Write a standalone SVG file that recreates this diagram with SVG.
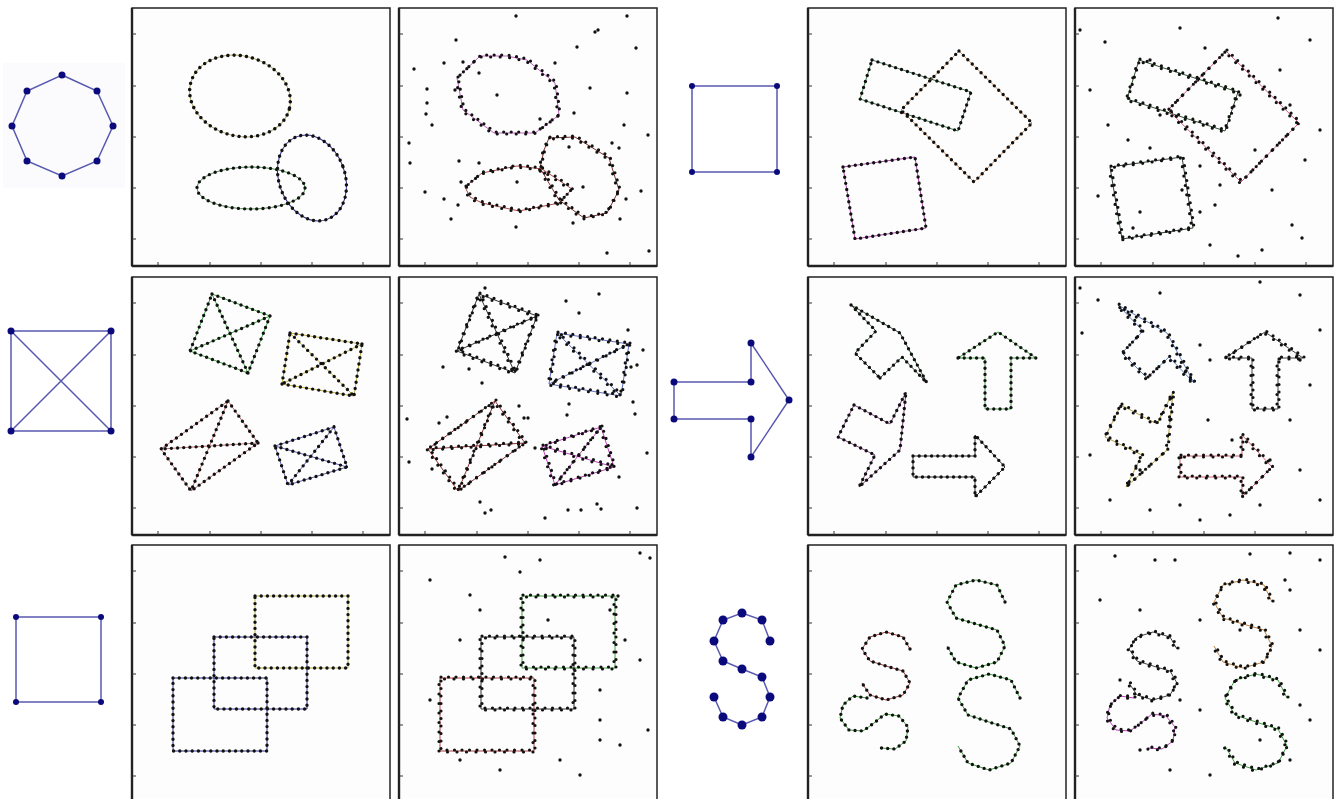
<svg xmlns="http://www.w3.org/2000/svg" xmlns:xlink="http://www.w3.org/1999/xlink" width="1338" height="799" viewBox="0 0 1338 799">
<style>
.frame{fill:#fdfdfd;stroke:#222;stroke-width:1.5}
.axis{stroke:#222;stroke-width:2.4}
.tick{stroke:#333;stroke-width:1}
.ln{fill:none;stroke-width:1}
.dots{fill:none;stroke:#111;stroke-width:3.4;stroke-linecap:round;stroke-dasharray:0 6.2}
.dj{fill:none;stroke:#111;stroke-width:3.2;stroke-linecap:round;stroke-dasharray:0 7.5}
.dj2{fill:none;stroke:#111;stroke-width:3.2;stroke-linecap:round;stroke-dasharray:0 9.5;stroke-dashoffset:4}
.noise circle{fill:#111}
.tpl{fill:none;stroke:#5858b0;stroke-width:1.5}
.tplpt circle{fill:#0a0a7c}
</style>
<defs>
<g id="frame">
<rect class="frame" x="0" y="0" width="258" height="258"/>
<line class="axis" x1="0" y1="0" x2="0" y2="258"/>
<line class="axis" x1="0" y1="258" x2="258" y2="258"/>
<path class="tick" d="M0 26h4M0 78h4M0 129h4M0 180h4M0 231h4M26 258v-4M78 258v-4M129 258v-4M180 258v-4M231 258v-4"/>
</g>
<ellipse id="e1" cx="108" cy="88" rx="51" ry="40" transform="rotate(15 108 88)"/>
<ellipse id="e2" cx="119" cy="180" rx="54" ry="21"/>
<ellipse id="e3" cx="180" cy="170" rx="33" ry="44" transform="rotate(-20 180 170)"/>
<path id="p1" d="M58 70L81 48L108 48L128 52L156 75L160 107L136 125L95 125L64 102Z"/>
<path id="p2" d="M66 179L83 165L118 158L143 161L173 181L160 195L120 203L83 195L71 189Z"/>
<path id="p3" d="M150 130L176 129L210 150L220 182L208 205L185 210L160 192L141 160L145 142Z"/>
<path id="q1" d="M64 52L163 84L150 123L52 91Z"/>
<path id="q2" d="M151 43L224 115L166 174L93 102Z"/>
<path id="q3" d="M35 159L107 149L118 220L47 231Z"/>
<path id="x1" d="M80 17L138 39L116 96L58 74ZM80 17L116 96M138 39L58 74"/>
<path id="x2" d="M158 56L230 67L222 119L150 107ZM158 56L222 119M230 67L150 107"/>
<path id="x3" d="M96 124L126 166L59 214L29 172ZM96 124L59 214M126 166L29 172"/>
<path id="x4" d="M143 169L202 150L215 190L156 208ZM143 169L215 190M202 150L156 208"/>
<path id="a1" d="M72 101L94 80L119 106L92 56L43 28L68 54L47 76Z"/>
<path id="a2" d="M150 81L177 81L177 132L203 132L203 81L228 81L190 55Z"/>
<path id="a3" d="M46 128L82 147L98 115L92 173L51 210L67 178L30 160Z"/>
<path id="a4" d="M105 179L167 179L167 158L197 190L167 220L167 200L105 200Z"/>
<path id="r1" d="M123 51H216V123H123Z"/>
<path id="r2" d="M82 92H175V164H82Z"/>
<path id="r3" d="M41 133H135V206H41Z"/>
<path id="s1" d="M197 57L189 40L168 35L148 40L139 57L148 73L168 79L189 85L197 101L189 117L168 123L148 117L139 101"/>
<path id="s2" d="M212 153L203 135L181 129L160 135L150 153L160 170L181 177L203 184L212 201L203 218L181 225L160 218L150 201"/>
<path id="s3" d="M102 104L95 92L78 87L62 92L54 104L62 116L78 121L95 126L102 138L95 150L78 155L62 150L54 138"/>
<path id="s4" d="M59 153L45 151L35 160L32 173L41 185L55 186L66 178L77 169L91 171L100 182L98 196L87 204L73 203"/>
</defs>

<g id="template-octagon">
<rect x="3" y="63" width="122" height="125" fill="#fbfbfd"/>
<polygon class="tpl" points="62,75 97,91 113,126 97,161 62,176 27,161 12,126 27,91"/>
<g class="tplpt"><circle cx="62" cy="75" r="3.5"/><circle cx="97" cy="91" r="3.5"/><circle cx="113" cy="126" r="3.5"/><circle cx="97" cy="161" r="3.5"/><circle cx="62" cy="176" r="3.5"/><circle cx="27" cy="161" r="3.5"/><circle cx="12" cy="126" r="3.5"/><circle cx="27" cy="91" r="3.5"/></g>
</g>
<g id="template-square-x">
<path class="tpl" d="M11 331H111V431H11ZM11 331L111 431M111 331L11 431"/>
<g class="tplpt"><circle cx="11" cy="331" r="3.5"/><circle cx="111" cy="331" r="3.5"/><circle cx="111" cy="431" r="3.5"/><circle cx="11" cy="431" r="3.5"/></g>
</g>
<g id="template-square-1">
<path class="tpl" d="M16 617H101V702H16Z"/>
<g class="tplpt"><circle cx="16" cy="617" r="3"/><circle cx="101" cy="617" r="3"/><circle cx="101" cy="702" r="3"/><circle cx="16" cy="702" r="3"/></g>
</g>
<g id="template-square-2">
<path class="tpl" d="M692 86H777V172H692Z"/>
<g class="tplpt"><circle cx="692" cy="86" r="3"/><circle cx="777" cy="86" r="3"/><circle cx="777" cy="172" r="3"/><circle cx="692" cy="172" r="3"/></g>
</g>
<g id="template-arrow">
<polygon class="tpl" points="674,382 751,382 751,343 789,400 751,457 751,419 674,419"/>
<g class="tplpt"><circle cx="674" cy="382" r="3.5"/><circle cx="751" cy="382" r="3.5"/><circle cx="751" cy="343" r="3.5"/><circle cx="789" cy="400" r="3.5"/><circle cx="751" cy="457" r="3.5"/><circle cx="751" cy="419" r="3.5"/><circle cx="674" cy="419" r="3.5"/></g>
</g>
<g id="template-s">
<polyline class="tpl" points="770,641 762,620 742,613 723,620 714,641 723,661 742,669 762,677 770,697 762,717 742,725 723,717 714,697"/>
<g class="tplpt"><circle cx="770" cy="641" r="4.5"/><circle cx="762" cy="620" r="4.5"/><circle cx="742" cy="613" r="4.5"/><circle cx="723" cy="620" r="4.5"/><circle cx="714" cy="641" r="4.5"/><circle cx="723" cy="661" r="4.5"/><circle cx="742" cy="669" r="4.5"/><circle cx="762" cy="677" r="4.5"/><circle cx="770" cy="697" r="4.5"/><circle cx="762" cy="717" r="4.5"/><circle cx="742" cy="725" r="4.5"/><circle cx="723" cy="717" r="4.5"/><circle cx="714" cy="697" r="4.5"/></g>
</g>

<g id="r1c1" transform="translate(132,8)">
<use href="#frame"/>
<use href="#e1" class="ln" style="stroke:#b0a860"/><use href="#e1" class="dots"/>
<use href="#e2" class="ln" style="stroke:#4a8a4a"/><use href="#e2" class="dots"/>
<use href="#e3" class="ln" style="stroke:#303090"/><use href="#e3" class="dots"/>
</g>

<g id="r1c2" transform="translate(399,8)">
<use href="#frame"/>
<use href="#p1" class="ln" style="stroke:#c060c0"/><use href="#p1" class="dj" transform="translate(1,-1)"/><use href="#p1" class="dj2" transform="translate(-1,1)"/>
<use href="#p2" class="ln" style="stroke:#b04848"/><use href="#p2" class="dj" transform="translate(1,-1)"/><use href="#p2" class="dj2" transform="translate(-1,1)"/>
<use href="#p3" class="ln" style="stroke:#803030"/><use href="#p3" class="dj" transform="translate(1,-1)"/><use href="#p3" class="dj2" transform="translate(-1,1)"/>
<g class="noise"><circle cx="117" cy="8" r="1.7"/><circle cx="228" cy="8" r="1.7"/><circle cx="196" cy="24" r="1.7"/><circle cx="199" cy="22" r="1.7"/><circle cx="57" cy="32" r="1.7"/><circle cx="178" cy="39" r="1.7"/><circle cx="237" cy="40" r="1.7"/><circle cx="15" cy="61" r="1.7"/><circle cx="45" cy="55" r="1.7"/><circle cx="64" cy="54" r="1.7"/><circle cx="156" cy="55" r="1.7"/><circle cx="80" cy="65" r="1.7"/><circle cx="28" cy="81" r="1.7"/><circle cx="191" cy="80" r="1.7"/><circle cx="98" cy="87" r="1.7"/><circle cx="228" cy="85" r="1.7"/><circle cx="28" cy="95" r="1.7"/><circle cx="27" cy="106" r="1.7"/><circle cx="33" cy="117" r="1.7"/><circle cx="56" cy="82" r="1.7"/><circle cx="175" cy="105" r="1.7"/><circle cx="141" cy="111" r="1.7"/><circle cx="225" cy="117" r="1.7"/><circle cx="249" cy="127" r="1.7"/><circle cx="10" cy="135" r="1.7"/><circle cx="11" cy="155" r="1.7"/><circle cx="60" cy="153" r="1.7"/><circle cx="80" cy="155" r="1.7"/><circle cx="118" cy="174" r="1.7"/><circle cx="184" cy="179" r="1.7"/><circle cx="242" cy="183" r="1.7"/><circle cx="26" cy="184" r="1.7"/><circle cx="45" cy="191" r="1.7"/><circle cx="59" cy="197" r="1.7"/><circle cx="52" cy="211" r="1.7"/><circle cx="117" cy="219" r="1.7"/><circle cx="174" cy="215" r="1.7"/><circle cx="221" cy="211" r="1.7"/><circle cx="227" cy="191" r="1.7"/><circle cx="208" cy="245" r="1.7"/><circle cx="250" cy="243" r="1.7"/><circle cx="213" cy="135" r="1.7"/><circle cx="220" cy="140" r="1.7"/><circle cx="170" cy="139" r="1.7"/><circle cx="62" cy="174" r="1.7"/></g>
</g>

<g id="r1c3" transform="translate(808,8)">
<use href="#frame"/>
<use href="#q1" class="ln" style="stroke:#3a7a4a"/><use href="#q1" class="dots"/>
<use href="#q2" class="ln" style="stroke:#d08a50"/><use href="#q2" class="dots"/>
<use href="#q3" class="ln" style="stroke:#b040b0"/><use href="#q3" class="dots"/>
</g>

<g id="r1c4" transform="translate(1075,8)">
<use href="#frame"/>
<use href="#q1" class="ln" style="stroke:#305030"/><use href="#q1" class="dj" transform="translate(1,-1)"/><use href="#q1" class="dj2" transform="translate(-1,1)"/>
<use href="#q2" class="ln" style="stroke:#d06080"/><use href="#q2" class="dj" transform="translate(1,-1)"/><use href="#q2" class="dj2" transform="translate(-1,1)"/>
<use href="#q3" class="ln" style="stroke:#304030"/><use href="#q3" class="dj" transform="translate(1,-1)"/><use href="#q3" class="dj2" transform="translate(-1,1)"/>
<g class="noise"><circle cx="5" cy="22" r="1.7"/><circle cx="30" cy="34" r="1.7"/><circle cx="105" cy="20" r="1.7"/><circle cx="203" cy="10" r="1.7"/><circle cx="235" cy="32" r="1.7"/><circle cx="245" cy="122" r="1.7"/><circle cx="15" cy="82" r="1.7"/><circle cx="33" cy="117" r="1.7"/><circle cx="53" cy="132" r="1.7"/><circle cx="75" cy="140" r="1.7"/><circle cx="215" cy="97" r="1.7"/><circle cx="230" cy="152" r="1.7"/><circle cx="197" cy="182" r="1.7"/><circle cx="107" cy="182" r="1.7"/><circle cx="125" cy="204" r="1.7"/><circle cx="140" cy="197" r="1.7"/><circle cx="217" cy="217" r="1.7"/><circle cx="135" cy="237" r="1.7"/><circle cx="163" cy="248" r="1.7"/><circle cx="187" cy="242" r="1.7"/><circle cx="65" cy="204" r="1.7"/><circle cx="227" cy="230" r="1.7"/><circle cx="58" cy="220" r="1.7"/><circle cx="23" cy="188" r="1.7"/><circle cx="125" cy="158" r="1.7"/><circle cx="85" cy="107" r="1.7"/><circle cx="165" cy="87" r="1.7"/><circle cx="205" cy="62" r="1.7"/><circle cx="180" cy="142" r="1.7"/><circle cx="145" cy="177" r="1.7"/><circle cx="75" cy="52" r="1.7"/><circle cx="130" cy="40" r="1.7"/></g>
</g>

<g id="r2c1" transform="translate(132,277)">
<use href="#frame"/>
<use href="#x1" class="ln" style="stroke:#40a040"/><use href="#x1" class="dots"/>
<use href="#x2" class="ln" style="stroke:#c0b040"/><use href="#x2" class="dots"/>
<use href="#x3" class="ln" style="stroke:#c07070"/><use href="#x3" class="dots"/>
<use href="#x4" class="ln" style="stroke:#6060b0"/><use href="#x4" class="dots"/>
</g>

<g id="r2c2" transform="translate(399,277)">
<use href="#frame"/>
<use href="#x1" class="ln" style="stroke:#333"/><use href="#x1" class="dj" transform="translate(1,-1)"/><use href="#x1" class="dj2" transform="translate(-1,1)"/>
<use href="#x2" class="ln" style="stroke:#6070c0"/><use href="#x2" class="dj" transform="translate(1,-1)"/><use href="#x2" class="dj2" transform="translate(-1,1)"/>
<use href="#x3" class="ln" style="stroke:#903030"/><use href="#x3" class="dj" transform="translate(1,-1)"/><use href="#x3" class="dj2" transform="translate(-1,1)"/>
<use href="#x4" class="ln" style="stroke:#c040c0"/><use href="#x4" class="dj" transform="translate(1,-1)"/><use href="#x4" class="dj2" transform="translate(-1,1)"/>
<g class="noise"><circle cx="86" cy="11" r="1.7"/><circle cx="200" cy="17" r="1.7"/><circle cx="167" cy="24" r="1.7"/><circle cx="180" cy="36" r="1.7"/><circle cx="44" cy="90" r="1.7"/><circle cx="70" cy="92" r="1.7"/><circle cx="83" cy="106" r="1.7"/><circle cx="229" cy="53" r="1.7"/><circle cx="244" cy="73" r="1.7"/><circle cx="238" cy="88" r="1.7"/><circle cx="232" cy="90" r="1.7"/><circle cx="8" cy="142" r="1.7"/><circle cx="10" cy="185" r="1.7"/><circle cx="40" cy="146" r="1.7"/><circle cx="48" cy="140" r="1.7"/><circle cx="120" cy="129" r="1.7"/><circle cx="125" cy="141" r="1.7"/><circle cx="129" cy="141" r="1.7"/><circle cx="170" cy="127" r="1.7"/><circle cx="168" cy="138" r="1.7"/><circle cx="236" cy="137" r="1.7"/><circle cx="234" cy="125" r="1.7"/><circle cx="136" cy="171" r="1.7"/><circle cx="248" cy="176" r="1.7"/><circle cx="220" cy="200" r="1.7"/><circle cx="33" cy="192" r="1.7"/><circle cx="81" cy="225" r="1.7"/><circle cx="86" cy="236" r="1.7"/><circle cx="92" cy="233" r="1.7"/><circle cx="146" cy="241" r="1.7"/><circle cx="169" cy="233" r="1.7"/><circle cx="182" cy="233" r="1.7"/><circle cx="198" cy="227" r="1.7"/><circle cx="202" cy="232" r="1.7"/><circle cx="238" cy="231" r="1.7"/></g>
</g>

<g id="r2c3" transform="translate(808,277)">
<use href="#frame"/>
<use href="#a1" class="ln" style="stroke:#305030"/><use href="#a1" class="dots"/>
<use href="#a2" class="ln" style="stroke:#40a040"/><use href="#a2" class="dots"/>
<use href="#a3" class="ln" style="stroke:#804080"/><use href="#a3" class="dots"/>
<use href="#a4" class="ln" style="stroke:#333"/><use href="#a4" class="dots"/>
</g>

<g id="r2c4" transform="translate(1075,277)">
<use href="#frame"/>
<use href="#a1" class="ln" style="stroke:#6080c0"/><use href="#a1" class="dj" transform="translate(1,-1)"/><use href="#a1" class="dj2" transform="translate(-1,1)"/>
<use href="#a2" class="ln" style="stroke:#444"/><use href="#a2" class="dj" transform="translate(1,-1)"/><use href="#a2" class="dj2" transform="translate(-1,1)"/>
<use href="#a3" class="ln" style="stroke:#b0a040"/><use href="#a3" class="dj" transform="translate(1,-1)"/><use href="#a3" class="dj2" transform="translate(-1,1)"/>
<use href="#a4" class="ln" style="stroke:#d06070"/><use href="#a4" class="dj" transform="translate(1,-1)"/><use href="#a4" class="dj2" transform="translate(-1,1)"/>
<g class="noise"><circle cx="5" cy="11" r="1.7"/><circle cx="23" cy="23" r="1.7"/><circle cx="85" cy="16" r="1.7"/><circle cx="185" cy="5" r="1.7"/><circle cx="225" cy="18" r="1.7"/><circle cx="245" cy="53" r="1.7"/><circle cx="7" cy="56" r="1.7"/><circle cx="125" cy="68" r="1.7"/><circle cx="135" cy="83" r="1.7"/><circle cx="225" cy="83" r="1.7"/><circle cx="235" cy="108" r="1.7"/><circle cx="215" cy="143" r="1.7"/><circle cx="157" cy="163" r="1.7"/><circle cx="133" cy="143" r="1.7"/><circle cx="95" cy="143" r="1.7"/><circle cx="35" cy="223" r="1.7"/><circle cx="75" cy="233" r="1.7"/><circle cx="105" cy="228" r="1.7"/><circle cx="185" cy="228" r="1.7"/><circle cx="225" cy="193" r="1.7"/><circle cx="245" cy="223" r="1.7"/><circle cx="15" cy="178" r="1.7"/><circle cx="65" cy="193" r="1.7"/><circle cx="195" cy="183" r="1.7"/><circle cx="125" cy="243" r="1.7"/><circle cx="155" cy="238" r="1.7"/></g>
</g>

<g id="r3c1" transform="translate(132,545)">
<use href="#frame"/>
<use href="#r1" class="ln" style="stroke:#b0b040"/><use href="#r1" class="dots"/>
<use href="#r2" class="ln" style="stroke:#303090"/><use href="#r2" class="dots"/>
<use href="#r3" class="ln" style="stroke:#303090"/><use href="#r3" class="dots"/>
</g>

<g id="r3c2" transform="translate(399,545)">
<use href="#frame"/>
<use href="#r1" class="ln" style="stroke:#40a040"/><use href="#r1" class="dj" transform="translate(1,-1)"/><use href="#r1" class="dj2" transform="translate(-1,1)"/>
<use href="#r2" class="ln" style="stroke:#333"/><use href="#r2" class="dj" transform="translate(1,-1)"/><use href="#r2" class="dj2" transform="translate(-1,1)"/>
<use href="#r3" class="ln" style="stroke:#b04040"/><use href="#r3" class="dj" transform="translate(1,-1)"/><use href="#r3" class="dj2" transform="translate(-1,1)"/>
<g class="noise"><circle cx="106" cy="12" r="1.7"/><circle cx="121" cy="27" r="1.7"/><circle cx="141" cy="15" r="1.7"/><circle cx="31" cy="35" r="1.7"/><circle cx="71" cy="50" r="1.7"/><circle cx="81" cy="65" r="1.7"/><circle cx="241" cy="8" r="1.7"/><circle cx="251" cy="13" r="1.7"/><circle cx="219" cy="51" r="1.7"/><circle cx="226" cy="95" r="1.7"/><circle cx="241" cy="115" r="1.7"/><circle cx="201" cy="145" r="1.7"/><circle cx="61" cy="95" r="1.7"/><circle cx="31" cy="155" r="1.7"/><circle cx="201" cy="175" r="1.7"/><circle cx="221" cy="200" r="1.7"/><circle cx="161" cy="215" r="1.7"/><circle cx="181" cy="230" r="1.7"/><circle cx="201" cy="195" r="1.7"/><circle cx="249" cy="185" r="1.7"/><circle cx="61" cy="215" r="1.7"/><circle cx="101" cy="225" r="1.7"/><circle cx="149" cy="75" r="1.7"/><circle cx="211" cy="65" r="1.7"/></g>
</g>

<g id="r3c3" transform="translate(808,545)">
<use href="#frame"/>
<use href="#s1" class="ln" style="stroke:#40a040"/><use href="#s1" class="dots"/>
<use href="#s2" class="ln" style="stroke:#40a040"/><use href="#s2" class="dots"/>
<use href="#s3" class="ln" style="stroke:#a04040"/><use href="#s3" class="dots"/>
<use href="#s4" class="ln" style="stroke:#40a040"/><use href="#s4" class="dots"/>
</g>

<g id="r3c4" transform="translate(1075,545)">
<use href="#frame"/>
<use href="#s1" class="ln" style="stroke:#c08040"/><use href="#s1" class="dj" transform="translate(1,-1)"/><use href="#s1" class="dj2" transform="translate(-1,1)"/>
<use href="#s2" class="ln" style="stroke:#40a040"/><use href="#s2" class="dj" transform="translate(1,-1)"/><use href="#s2" class="dj2" transform="translate(-1,1)"/>
<use href="#s3" class="ln" style="stroke:#444"/><use href="#s3" class="dj" transform="translate(1,-1)"/><use href="#s3" class="dj2" transform="translate(-1,1)"/>
<use href="#s4" class="ln" style="stroke:#c040c0"/><use href="#s4" class="dj" transform="translate(1,-1)"/><use href="#s4" class="dj2" transform="translate(-1,1)"/>
<g class="noise"><circle cx="40" cy="11" r="1.7"/><circle cx="80" cy="15" r="1.7"/><circle cx="100" cy="15" r="1.7"/><circle cx="175" cy="9" r="1.7"/><circle cx="215" cy="8" r="1.7"/><circle cx="245" cy="15" r="1.7"/><circle cx="210" cy="35" r="1.7"/><circle cx="215" cy="45" r="1.7"/><circle cx="25" cy="55" r="1.7"/><circle cx="65" cy="65" r="1.7"/><circle cx="125" cy="75" r="1.7"/><circle cx="225" cy="85" r="1.7"/><circle cx="245" cy="105" r="1.7"/><circle cx="105" cy="155" r="1.7"/><circle cx="125" cy="165" r="1.7"/><circle cx="225" cy="160" r="1.7"/><circle cx="235" cy="175" r="1.7"/><circle cx="185" cy="195" r="1.7"/><circle cx="65" cy="205" r="1.7"/><circle cx="95" cy="225" r="1.7"/><circle cx="135" cy="230" r="1.7"/><circle cx="215" cy="215" r="1.7"/><circle cx="45" cy="135" r="1.7"/><circle cx="165" cy="85" r="1.7"/></g>
</g>
</svg>
